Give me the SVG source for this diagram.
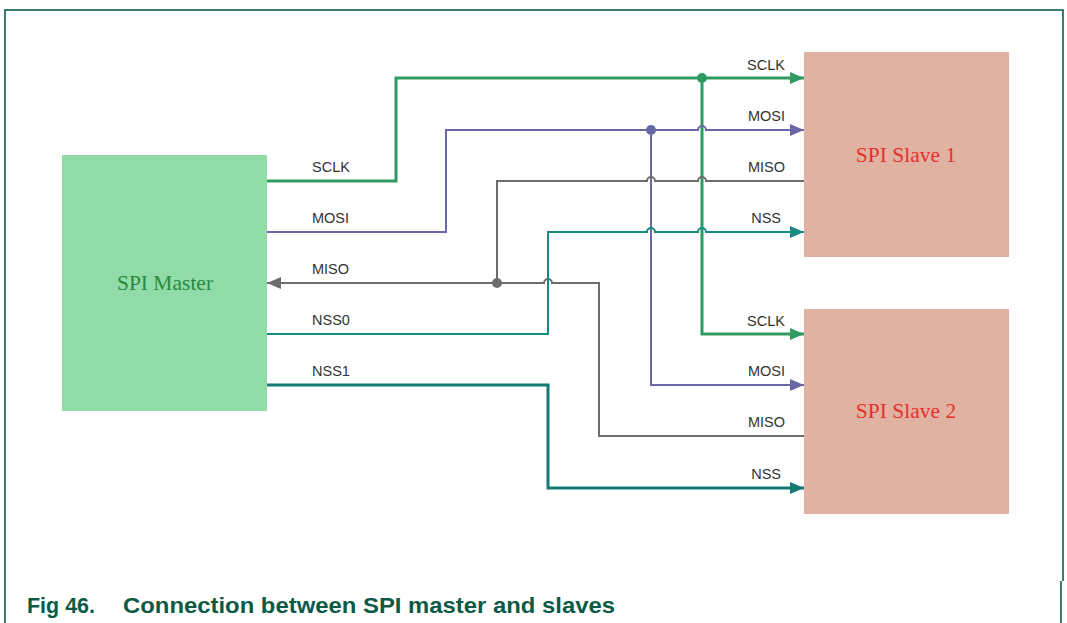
<svg xmlns="http://www.w3.org/2000/svg" width="1067" height="623" viewBox="0 0 1067 623">
<style>
.lbl{font-family:"Liberation Sans",Arial,sans-serif;font-size:14.5px;fill:#333}
.r{text-anchor:end}
.box{font-family:"Liberation Serif","DejaVu Serif",serif;font-size:21.5px;text-anchor:middle}
.cap{font-family:"Liberation Sans",Arial,sans-serif;font-size:22px;font-weight:bold;fill:#0b5a45}
.w{fill:none;stroke-linejoin:miter}
.sclk{stroke:#2f9b62;stroke-width:3}
.mosi{stroke:#6a67a6;stroke-width:2}
.miso{stroke:#6d6d6d;stroke-width:2}
.nss0{stroke:#178a82;stroke-width:2}
.nss1{stroke:#147a72;stroke-width:3}
.frame{stroke:#00533f;stroke-width:1.5;fill:none}
</style>
<defs>
<marker id="aG" markerUnits="userSpaceOnUse" markerWidth="14" markerHeight="12" refX="14" refY="6" orient="auto"><path d="M0,0 L14,6 L0,12 z" fill="#2f9b62"/></marker>
<marker id="aP" markerUnits="userSpaceOnUse" markerWidth="14" markerHeight="12" refX="14" refY="6" orient="auto"><path d="M0,0 L14,6 L0,12 z" fill="#6a67a6"/></marker>
<marker id="aY" markerUnits="userSpaceOnUse" markerWidth="14" markerHeight="12" refX="14" refY="6" orient="auto"><path d="M0,0 L14,6 L0,12 z" fill="#6d6d6d"/></marker>
<marker id="aT" markerUnits="userSpaceOnUse" markerWidth="14" markerHeight="12" refX="14" refY="6" orient="auto"><path d="M0,0 L14,6 L0,12 z" fill="#178a82"/></marker>
<marker id="aT2" markerUnits="userSpaceOnUse" markerWidth="14" markerHeight="12" refX="14" refY="6" orient="auto"><path d="M0,0 L14,6 L0,12 z" fill="#147a72"/></marker>
</defs>
<rect width="1067" height="623" fill="#fff"/>
<g id="frame">
<path class="frame" d="M5,623 V10 H1063 V581"/>
<path class="frame" d="M1061,581 V623"/>
</g>
<g id="master">
<rect x="62" y="155" width="205" height="256" fill="#90dba8"/>
<text class="box" x="165" y="290" fill="#2a8a3a">SPI Master</text>
</g>
<g id="slave1">
<rect x="804" y="52" width="205" height="205" fill="#dfb2a1"/>
<text class="box" x="906" y="162" fill="#e8302a">SPI Slave 1</text>
</g>
<g id="slave2">
<rect x="804" y="309" width="205" height="205" fill="#dfb2a1"/>
<text class="box" x="906" y="418" fill="#e8302a">SPI Slave 2</text>
</g>
<g id="connectors">
<path class="w sclk" d="M267,181 H396 V78 H804" marker-end="url(#aG)"/>
<path class="w sclk" d="M702,78 V334 H804" marker-end="url(#aG)"/>
<circle cx="702" cy="78" r="5" fill="#2f9b62"/>
<path class="w mosi" d="M267,232 H446 V130 H698 A4,4 0 0 1 706,130 H804" marker-end="url(#aP)"/>
<path class="w mosi" d="M651,130 V385 H804" marker-end="url(#aP)"/>
<circle cx="651" cy="130" r="5" fill="#6a67a6"/>
<path class="w miso" d="M497,283 V181 H647 A4,4 0 0 1 655,181 H698 A4,4 0 0 1 706,181 H804"/>
<path class="w miso" d="M497,283 H267" marker-end="url(#aY)"/>
<path class="w miso" d="M497,283 H544 A4,4 0 0 1 552,283 H599 V436 H804"/>
<circle cx="497" cy="283" r="5" fill="#6d6d6d"/>
<path class="w nss0" d="M267,334 H548 V232 H647 A4,4 0 0 1 655,232 H698 A4,4 0 0 1 706,232 H804" marker-end="url(#aT)"/>
<path class="w nss1" d="M267,385 H548 V488 H804" marker-end="url(#aT2)"/>
</g>
<g id="labels">
<text class="lbl" x="312" y="172">SCLK</text>
<text class="lbl" x="312" y="223">MOSI</text>
<text class="lbl" x="312" y="274">MISO</text>
<text class="lbl" x="312" y="325">NSS0</text>
<text class="lbl" x="312" y="376">NSS1</text>
<text class="lbl r" x="785" y="70">SCLK</text>
<text class="lbl r" x="785" y="121">MOSI</text>
<text class="lbl r" x="785" y="172">MISO</text>
<text class="lbl r" x="781" y="223">NSS</text>
<text class="lbl r" x="785" y="326">SCLK</text>
<text class="lbl r" x="785" y="376">MOSI</text>
<text class="lbl r" x="785" y="427">MISO</text>
<text class="lbl r" x="781" y="479">NSS</text>
</g>
<g id="caption">
<text class="cap" x="27" y="613" textLength="68" lengthAdjust="spacingAndGlyphs">Fig 46.</text>
<text class="cap" x="123" y="613" textLength="492" lengthAdjust="spacingAndGlyphs">Connection between SPI master and slaves</text>
</g>
</svg>
